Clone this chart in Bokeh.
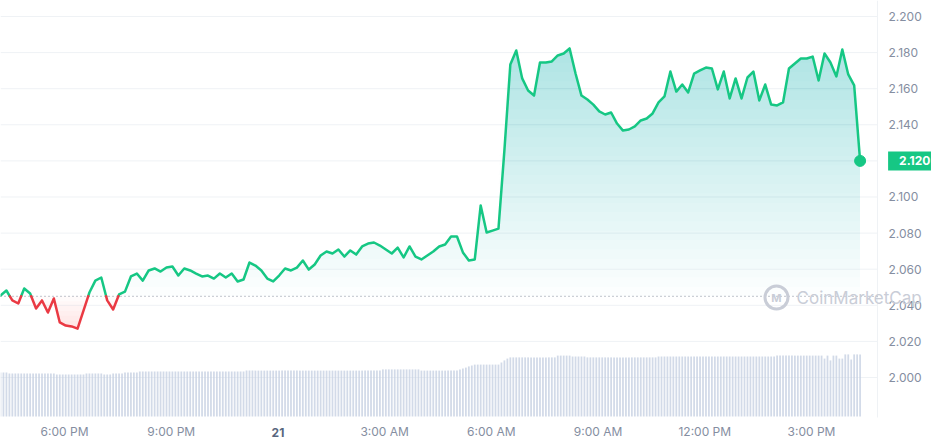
import numpy as np
from bokeh.plotting import figure
from bokeh.models import Range1d, FixedTicker, PrintfTickFormatter, Label
from bokeh.embed import file_html
from bokeh.resources import INLINE

# ---------------- data ----------------
START_HOUR = 16.2            # first sample, hours since midnight of day 20
PRICE_STEP_H = 1 / 6         # 10-minute price samples
VOLUME_STEP_H = 1 / 12       # 5-minute volume bars

PRICE = [
    2.0454, 2.0482, 2.0427, 2.0410, 2.0493, 2.0465, 2.0382, 2.0427, 2.0360, 2.0438,
    2.0305, 2.0288, 2.0283, 2.0271, 2.0371, 2.0471, 2.0537, 2.0554, 2.0427, 2.0377,
    2.0460, 2.0476, 2.0560, 2.0576, 2.0537, 2.0593, 2.0604, 2.0587, 2.0609, 2.0615,
    2.0565, 2.0604, 2.0593, 2.0576, 2.0560, 2.0565, 2.0548, 2.0576, 2.0554, 2.0576,
    2.0532, 2.0543, 2.0637, 2.0620, 2.0593, 2.0548, 2.0532, 2.0565, 2.0604, 2.0593,
    2.0609, 2.0648, 2.0598, 2.0626, 2.0676, 2.0698, 2.0687, 2.0709, 2.0670, 2.0704,
    2.0681, 2.0726, 2.0742, 2.0748, 2.0731, 2.0709, 2.0687, 2.0720, 2.0665, 2.0726,
    2.0670, 2.0654, 2.0676, 2.0698, 2.0726, 2.0737, 2.0781, 2.0781, 2.0693, 2.0648,
    2.0654, 2.0953, 2.0803, 2.0814, 2.0825, 2.1258, 2.1734, 2.1812, 2.1657, 2.1590,
    2.1562, 2.1745, 2.1745, 2.1751, 2.1784, 2.1795, 2.1823, 2.1684, 2.1562, 2.1540,
    2.1512, 2.1474, 2.1457, 2.1468, 2.1407, 2.1368, 2.1374, 2.1391, 2.1424, 2.1435,
    2.1463, 2.1524, 2.1557, 2.1695, 2.1584, 2.1623, 2.1579, 2.1684, 2.1701, 2.1717,
    2.1712, 2.1596, 2.1695, 2.1546, 2.1657, 2.1546, 2.1662, 2.1695, 2.1535, 2.1623,
    2.1512, 2.1507, 2.1524, 2.1712, 2.1740, 2.1767, 2.1767, 2.1778, 2.1645, 2.1795,
    2.1745, 2.1668, 2.1817, 2.1679, 2.1618, 2.1200,
]

VOLUME = [  # 24h volume, billions USD (relative)
    1.47, 1.47, 1.47,
    1.43, 1.43, 1.43, 1.43, 1.43, 1.43, 1.43, 1.43,
    1.43, 1.43, 1.43, 1.43, 1.43, 1.43, 1.43, 1.43,
    1.40, 1.40, 1.40, 1.40, 1.40, 1.40, 1.40, 1.40, 1.40, 1.40,
    1.43, 1.43, 1.43, 1.43, 1.43, 1.43,
    1.40, 1.40, 1.40,
    1.43, 1.43, 1.43, 1.43,
    1.47, 1.47, 1.47, 1.47, 1.47,
    1.50, 1.50, 1.50, 1.50, 1.50, 1.50, 1.50, 1.50, 1.50, 1.50, 1.50, 1.50,
    1.50, 1.50, 1.50, 1.50, 1.50, 1.50, 1.50, 1.50, 1.50, 1.50, 1.50, 1.50,
    1.50, 1.50, 1.50, 1.50, 1.50, 1.50, 1.50, 1.50, 1.50, 1.50, 1.50, 1.50,
    1.53, 1.53, 1.53, 1.53, 1.53, 1.53, 1.53, 1.53, 1.53, 1.53, 1.53, 1.53,
    1.53, 1.53, 1.53, 1.53, 1.53, 1.53, 1.53, 1.53, 1.53, 1.53, 1.53, 1.53,
    1.53, 1.53, 1.53, 1.53, 1.53, 1.53, 1.53, 1.53, 1.53, 1.53, 1.53, 1.53,
    1.53, 1.53, 1.53, 1.53, 1.53, 1.53, 1.53, 1.53, 1.53, 1.53,
    1.57, 1.57, 1.57, 1.57, 1.57, 1.57, 1.57, 1.57, 1.57, 1.57, 1.57, 1.57, 1.57,
    1.53, 1.53, 1.53, 1.53, 1.53, 1.53, 1.53, 1.53, 1.53, 1.53, 1.53, 1.53, 1.53,
    1.57, 1.60, 1.63, 1.67, 1.70, 1.73,
    1.73, 1.73, 1.73, 1.73, 1.73, 1.73, 1.73, 1.73,
    1.80, 1.87, 1.93, 1.97,
    1.97, 1.97, 1.97, 1.97, 1.97, 1.97, 1.97, 1.97, 1.97, 1.97, 1.97, 1.97, 1.97, 1.97, 1.97,
    2.03, 2.03, 2.03, 2.03, 2.03,
    2.00, 2.00, 2.00, 2.00, 2.00,
    1.97, 1.97, 1.97, 1.97, 1.97, 1.97, 1.97, 1.97, 1.97, 1.97, 1.97, 1.97,
    1.97, 1.97, 1.97, 1.97, 1.97, 1.97, 1.97, 1.97, 1.97, 1.97, 1.97, 1.97,
    2.00, 2.00, 2.00, 2.00, 2.00, 2.00, 2.00, 2.00, 2.00, 2.00,
    2.00, 2.00, 2.00, 2.00, 2.00, 2.00, 2.00, 2.00, 2.00, 2.00,
    2.00, 2.00, 2.00, 2.00, 2.00, 2.00, 2.00, 2.00, 2.00, 2.00,
    2.00, 2.00, 2.00, 2.00, 2.00, 2.00, 2.00, 2.00, 2.00, 2.00,
    2.03, 2.03, 2.03, 2.03, 2.03, 2.03, 2.03, 2.03,
    2.03, 2.03, 2.03, 2.03, 2.03, 2.03, 2.03, 2.03,
    1.93, 2.03, 1.87, 2.03, 2.03, 1.93, 1.93, 2.07, 2.07, 1.90, 2.07, 2.07, 2.07,
]

OPEN_PRICE = 2.045
TICK_HOURS = [18, 21, 24, 27, 30, 33, 36, 39]
TICK_LABELS = ["6:00 PM", "9:00 PM", "21", "3:00 AM", "6:00 AM", "9:00 AM", "12:00 PM", "3:00 PM"]
DAY_TICK = "21"
PRICE_TICKS = [2.000, 2.020, 2.040, 2.060, 2.080, 2.100, 2.120, 2.140, 2.160, 2.180, 2.200]

# ---------------- layout / style ----------------
X_LEFT, X_AXIS, X_RIGHT = 16.2, 40.856, 42.374      # hours: left edge, axis line, frame edge
Y_TOP, Y_PLOT_BOTTOM, Y_BOTTOM = 2.20886, 1.97784, 1.96233
Y_XLABEL = 1.96953
FONT = "Inter"
GREEN = "#16c784"
RED = "#ea3943"
AXIS_TEXT = "#858ea1"
GRID = "#eff2f5"
WATERMARK = "#c9cdd7"

t = START_HOUR + np.arange(len(PRICE)) * PRICE_STEP_H
price = np.array(PRICE)
vt = START_HOUR + np.arange(len(VOLUME)) * VOLUME_STEP_H
vol = np.array(VOLUME)

# insert crossings with the open-price baseline so green/red meet exactly
xs, ys = [t[0]], [price[0]]
for k in range(1, len(t)):
    p0, p1 = price[k - 1], price[k]
    if (p0 - OPEN_PRICE) * (p1 - OPEN_PRICE) < 0:
        f = (OPEN_PRICE - p0) / (p1 - p0)
        xs.append(t[k - 1] + f * (t[k] - t[k - 1]))
        ys.append(OPEN_PRICE)
    xs.append(t[k])
    ys.append(price[k])
xs = np.array(xs)
ys = np.array(ys)
green_y = np.where(ys >= OPEN_PRICE, ys, np.nan)
red_y = np.where(ys <= OPEN_PRICE, ys, np.nan)

p = figure(width=931, height=445, output_backend="svg", toolbar_location=None,
           x_range=Range1d(X_LEFT, X_RIGHT), y_range=Range1d(Y_BOTTOM, Y_TOP),
           y_axis_location="right",
           min_border_left=0, min_border_top=0, min_border_right=0, min_border_bottom=0)
p.outline_line_color = None
p.background_fill_color = "white"
p.border_fill_color = "white"
# volume axis: 0 sits on the plot-area bottom
p.extra_y_ranges = {"vol": Range1d(-0.9667, 13.867)}
p.grid.visible = False

# right price axis (labels drawn just right of the border line)
p.yaxis.ticker = FixedTicker(ticks=[v for v in PRICE_TICKS if abs(v - price[-1]) > 1e-6])
p.yaxis.formatter = PrintfTickFormatter(format="%.3f")
p.yaxis.axis_line_color = None
p.yaxis.major_tick_line_color = None
p.yaxis.minor_tick_line_color = None
p.yaxis.major_tick_out = 0
p.yaxis.major_tick_in = 0
p.yaxis.major_label_standoff = -43
p.yaxis.major_label_text_font = FONT
p.yaxis.major_label_text_font_size = "12px"
p.yaxis.major_label_text_color = AXIS_TEXT

# bottom time axis
p.xaxis.ticker = FixedTicker(ticks=[h for h, s in zip(TICK_HOURS, TICK_LABELS) if s != DAY_TICK])
p.xaxis.major_label_overrides = {h: s for h, s in zip(TICK_HOURS, TICK_LABELS) if s != DAY_TICK}
p.xaxis.axis_line_color = None
p.xaxis.major_tick_line_color = None
p.xaxis.minor_tick_line_color = None
p.xaxis.major_tick_out = 0
p.xaxis.major_tick_in = 0
p.xaxis.major_label_standoff = -22
p.xaxis.major_label_text_font = FONT
p.xaxis.major_label_text_font_size = "12px"
p.xaxis.major_label_text_color = AXIS_TEXT

day_hour = TICK_HOURS[TICK_LABELS.index(DAY_TICK)]
p.add_layout(Label(x=day_hour, y=Y_XLABEL, text=DAY_TICK,
                   text_align="center", text_baseline="middle", text_font=FONT,
                   text_font_size="12px", text_font_style="bold", text_color="#58667e"))

# horizontal grid lines and the axis border line
p.segment(x0=X_LEFT, x1=X_AXIS, y0=PRICE_TICKS, y1=PRICE_TICKS, line_color=GRID, line_width=1)
p.segment(x0=[X_AXIS], x1=[X_AXIS], y0=[Y_PLOT_BOTTOM], y1=[Y_TOP], line_color=GRID, line_width=1)

# volume bars
p.vbar(x=vt, top=vol, bottom=0, width=VOLUME_STEP_H * 0.6, y_range_name="vol",
       fill_color="#c3cde0", fill_alpha=0.75, line_color=None)

# green gradient fill (layers above the open price)
for lvl in np.linspace(OPEN_PRICE, 2.195, 30):
    p.varea(x=xs, y1=np.full_like(ys, lvl), y2=np.maximum(ys, lvl),
            fill_color=GREEN, fill_alpha=0.012)
# red gradient fill (layers below the open price)
for lvl in np.linspace(OPEN_PRICE, 2.026, 8):
    p.varea(x=xs, y1=np.minimum(ys, lvl), y2=np.full_like(ys, lvl),
            fill_color=RED, fill_alpha=0.02)

# open-price dotted baseline
p.segment(x0=[X_LEFT], x1=[X_AXIS], y0=[OPEN_PRICE], y1=[OPEN_PRICE],
          line_color="#9aa1ad", line_dash="1 3", line_width=1.2)

# price line
p.line(xs, green_y, line_color=GREEN, line_width=2.5, line_join="round", line_cap="round")
p.line(xs, red_y, line_color=RED, line_width=2.5, line_join="round", line_cap="round")
p.scatter([t[-1]], [price[-1]], size=11, fill_color=GREEN, line_color=GREEN)

# last-price tag on the axis
p.add_layout(Label(x=t[-1], y=price[-1], x_offset=28, text=f"{price[-1]:.3f}",
                   text_align="left", text_baseline="middle", text_font=FONT,
                   text_font_size="12px", text_font_style="bold", text_color="white",
                   background_fill_color=GREEN,
                   padding=dict(left=11, right=12, top=5, bottom=5)))

# watermark
p.scatter([38.016], [2.0443], marker="circle", size=23, fill_color=None,
          line_color=WATERMARK, line_width=3)
p.add_layout(Label(x=38.016, y=2.0443, text="M", text_align="center", text_baseline="middle",
                   text_font=FONT, text_font_size="11px", text_font_style="bold",
                   text_color=WATERMARK))
p.add_layout(Label(x=38.58, y=2.0443, text="CoinMarketCap", text_align="left",
                   text_baseline="middle", text_font=FONT, text_font_size="17px",
                   text_color=WATERMARK))

open("out.html", "w").write(file_html(p, INLINE))
